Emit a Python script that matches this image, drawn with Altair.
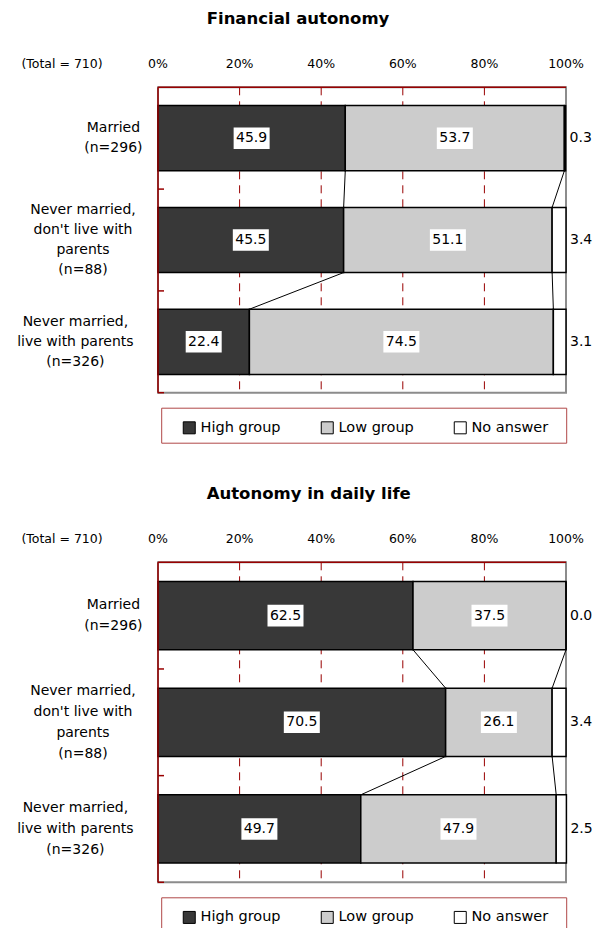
import altair as alt
import pandas as pd

# Row labels, legend groups and the shares (%) of each group per row
categories = [
    "Married\n(n=296)",
    "Never married,\ndon't live with\nparents\n(n=88)",
    "Never married,\nlive with parents\n(n=326)",
]
groups = ["High group", "Low group", "No answer"]
group_colors = ["#383838", "#cccccc", "#ffffff"]

financial_high = [45.9, 45.5, 22.4]
financial_low = [53.7, 51.1, 74.5]
financial_na = [0.3, 3.4, 3.1]

daily_high = [62.5, 70.5, 49.7]
daily_low = [37.5, 26.1, 47.9]
daily_na = [0.0, 3.4, 2.5]

pct_ticks = [0, 20, 40, 60, 80, 100]
total_n = 710

RED = "#990000"
FONT = "DejaVu Sans"
PLOT_W = 408
BASE_H = 305.4      # height of the first panel's plot area, px
GAP = 0.18          # empty share of a category row above and below its bar
CHAR_W = 7.6        # rough width of one label character, px
LABEL_GAP = 18      # space between row labels and the left axis, px
BOX_PATH = "M-1,-0.6H1V0.6H-1Z"


def build_panel(title, high, low, na, height):
    rows = []
    for i, cat in enumerate(categories):
        start = 0.0
        for g, v in zip(groups, (high[i], low[i], na[i])):
            rows.append({
                "cat": cat, "idx": i, "group": g, "value": v,
                "start": start, "end": start + v, "mid": start + v / 2,
                "top": i + GAP, "bot": i + 1 - GAP, "center": i + 0.5,
            })
            start += v
    seg = pd.DataFrame(rows)

    # series lines joining the group boundaries of neighbouring bars
    cum_high = list(high)
    cum_low = [h + l for h, l in zip(high, low)]
    links = []
    for i in range(len(categories) - 1):
        for cum in (cum_high, cum_low):
            links.append({"x_from": cum[i], "x_to": cum[i + 1],
                          "y_from": i + 1 - GAP, "y_to": i + 1 + GAP})
    links = pd.DataFrame(links)

    # row labels: lines centred within a block that ends at the axis,
    # the block itself centred on its bar
    line_h = 20 * height / BASE_H
    row_px = height / len(categories)
    lab = pd.DataFrame({
        "cat": categories,
        "ly": [i + 0.5 - (len(c.split("\n")) - 1) * line_h / 2 / row_px
               for i, c in enumerate(categories)],
        "lx": [-(LABEL_GAP + 0.5 * CHAR_W * max(len(s) for s in c.split("\n"))) / PLOT_W * 100
               for c in categories],
    })
    bounds = pd.DataFrame({"b": list(range(1, len(categories) + 1))})
    ticks = pd.DataFrame({"p": pct_ticks})
    inner = pd.DataFrame({"p": pct_ticks[1:-1]})
    total = pd.DataFrame({"label": [f"(Total = {total_n})"]})

    xscale = alt.Scale(domain=[0, 100], nice=False, zero=True)
    yscale = alt.Scale(domain=[0, len(categories)], reverse=True, nice=False, zero=False)

    frame = alt.Chart(total)

    # frame drawn round the legend below the plot
    legend_box = frame.mark_rect(fill="white", stroke="#b04848", strokeWidth=1).encode(
        x=alt.value(3.7), x2=alt.value(PLOT_W + 0.7),
        y=alt.value(height + 15.5), y2=alt.value(height + 50.5),
    )

    # dashed percent gridlines
    grid = alt.Chart(inner).mark_rule(color=RED, strokeWidth=1, strokeDash=[8, 6]).encode(
        x=alt.X("p:Q", scale=xscale, axis=None),
        y=alt.value(0), y2=alt.value(height),
    )

    # percent labels along the top edge
    top_labels = alt.Chart(ticks).transform_calculate(
        label="datum.p + '%'"
    ).mark_text(fontSize=12.5, baseline="middle", color="black").encode(
        x=alt.X("p:Q", scale=xscale, axis=None),
        y=alt.value(-23.7),
        text="label:N",
    )

    bars = alt.Chart(seg).mark_rect(stroke="black", strokeWidth=1.5).encode(
        x=alt.X("start:Q", scale=xscale, axis=None),
        x2="end:Q",
        y=alt.Y("top:Q", scale=yscale, axis=None),
        y2="bot:Q",
        color=alt.Color("group:N", scale=alt.Scale(domain=groups, range=group_colors),
                        legend=alt.Legend(
                            title=None, orient="none", legendX=24, legendY=height + 27.5,
                            direction="horizontal", symbolType="square", symbolSize=144,
                            symbolStrokeColor="black", symbolStrokeWidth=1, symbolOffset=0,
                            labelFontSize=14.5, labelOffset=4, labelColor="black",
                            columnPadding=38, padding=0)),
    )

    link_rules = alt.Chart(links).mark_rule(color="black", strokeWidth=1).encode(
        x=alt.X("x_from:Q", scale=xscale, axis=None), x2="x_to:Q",
        y=alt.Y("y_from:Q", scale=yscale, axis=None), y2="y_to:Q",
    )

    inside = alt.Chart(seg).transform_filter(
        alt.FieldOneOfPredicate(field="group", oneOf=groups[:2]))

    boxes = inside.mark_point(shape=BOX_PATH, size=36 ** 2, filled=True, color="white",
                              opacity=1, strokeWidth=0).encode(
        x=alt.X("mid:Q", scale=xscale, axis=None),
        y=alt.Y("center:Q", scale=yscale, axis=None),
    )

    values = inside.mark_text(fontSize=14, color="black").encode(
        x=alt.X("mid:Q", scale=xscale, axis=None),
        y=alt.Y("center:Q", scale=yscale, axis=None),
        text=alt.Text("value:Q", format=".1f"),
    )

    na_text = alt.Chart(seg).transform_filter(
        alt.FieldEqualPredicate(field="group", equal=groups[2])
    ).mark_text(fontSize=14, align="left", dx=4, color="black").encode(
        x=alt.X("end:Q", scale=xscale, axis=None),
        y=alt.Y("center:Q", scale=yscale, axis=None),
        text=alt.Text("value:Q", format=".1f"),
    )

    row_labels = alt.Chart(lab).mark_text(
        fontSize=14, align="center", baseline="middle", lineBreak="\n", lineHeight=line_h,
        color="black").encode(
        x=alt.X("lx:Q", scale=xscale, axis=None),
        y=alt.Y("ly:Q", scale=yscale, axis=None),
        text="cat:N",
    )

    row_ticks = alt.Chart(bounds).mark_rule(color=RED, strokeWidth=1.5).encode(
        x=alt.value(0), x2=alt.value(6),
        y=alt.Y("b:Q", scale=yscale, axis=None),
    )

    # red axis lines along the top and left edges
    top_line = frame.mark_rule(color=RED, strokeWidth=1.5).encode(
        x=alt.value(0), x2=alt.value(PLOT_W), y=alt.value(0))
    left_line = frame.mark_rule(color=RED, strokeWidth=1.5).encode(
        x=alt.value(0), y=alt.value(0), y2=alt.value(height))

    total_text = frame.mark_text(fontSize=12.5, baseline="middle", color="black").encode(
        x=alt.value(-96), y=alt.value(-23.7), text="label:N",
    )

    return alt.layer(
        legend_box, grid, bars, link_rules, boxes, values, na_text, row_labels,
        top_line, left_line, row_ticks, top_labels, total_text
    ).properties(
        width=PLOT_W, height=height,
        title=alt.TitleParams(text=title, anchor="start", frame="group", dx=48.7, offset=30,
                              fontSize=16.5, fontWeight="bold", color="black"),
    )


financial = build_panel("Financial autonomy", financial_high, financial_low, financial_na, BASE_H)
daily = build_panel("Autonomy in daily life", daily_high, daily_low, daily_na, 320)

chart = alt.vconcat(financial, daily, spacing=169, bounds="flush").resolve_scale(
    x="independent", y="independent", color="independent"
).resolve_legend(color="independent").properties(
    autosize=alt.AutoSizeParams(type="none"),
    padding={"left": 158, "top": 87.3, "right": 28, "bottom": 840.7},
).configure(font=FONT).configure_view(stroke="#8c8c8c", strokeWidth=2)

chart.save("out.html", embed_options={"renderer": "svg", "actions": False})
